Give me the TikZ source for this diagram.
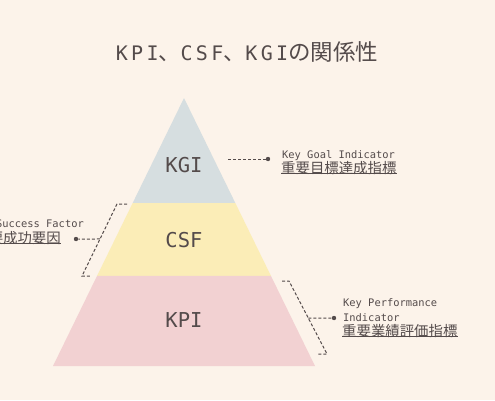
\documentclass[tikz,border=0pt]{standalone}
\usepackage{fontspec}
\usetikzlibrary{calc}
\newfontfamily\monofnt{DejaVu Sans Mono}
\newfontfamily\cjkfnt{Noto Sans CJK JP}
\definecolor{bgc}{HTML}{FCF3EA}
\definecolor{kgic}{HTML}{D6DEE0}
\definecolor{csfc}{HTML}{FBEDB7}
\definecolor{kpic}{HTML}{F2D1D2}
\definecolor{inkc}{HTML}{544B4B}
\begin{document}
\begin{tikzpicture}[x=1pt,y=-1pt,
  txt/.style={inner sep=0pt,text=inkc},
  lvl/.style={txt,font=\monofnt\fontsize{20.5}{20.5}\selectfont},
  en/.style={txt,anchor=west,font=\monofnt\fontsize{10.4}{10.4}\selectfont},
  ja/.style={txt,anchor=west,font=\cjkfnt\fontsize{14.4}{14.4}\selectfont},
  dashline/.style={draw=inkc,line width=1pt,dash pattern=on 3pt off 2pt},
  dotnode/.style={circle,fill=inkc,inner sep=0pt,minimum size=4.4pt},
  uline/.style={draw=inkc,line width=0.8pt}]
\useasboundingbox[fill=bgc] (0,0) rectangle (495,400);

% title
\node[txt] (title) at (247,52) {\monofnt\fontsize{20}{20}\selectfont K\,P\,I\cjkfnt\fontsize{22}{22}\selectfont 、\monofnt\fontsize{20}{20}\selectfont C\,S\,F\cjkfnt\fontsize{22}{22}\selectfont 、\monofnt\fontsize{20}{20}\selectfont K\,G\,I\cjkfnt\fontsize{22.5}{22.5}\selectfont の関係性};

% pyramid
\coordinate (apex) at (184,98);
\coordinate (bl) at (53,366);
\coordinate (br) at (315,366);
\coordinate (l1) at ($(apex)!0.392!(bl)$);
\coordinate (r1) at ($(apex)!0.392!(br)$);
\coordinate (l2) at ($(apex)!0.664!(bl)$);
\coordinate (r2) at ($(apex)!0.664!(br)$);
\fill[kgic] (apex) -- (r1) -- (l1) -- cycle;
\fill[csfc] (l1) -- (r1) -- (r2) -- (l2) -- cycle;
\fill[kpic] (l2) -- (r2) -- (br) -- (bl) -- cycle;
\node[lvl] (kgi) at (184,165) {KGI};
\node[lvl] (csf) at (184,240) {CSF};
\node[lvl] (kpi) at (184,320) {KPI};

% KGI annotation
\coordinate (kgis) at (228,159);
\node[dotnode] (kgidot) at (268,159) {};
\draw[dashline] (kgis) -- (kgidot);
\node[en] (kgien) at (282,156) {Key Goal Indicator};
\node[ja] (kgija) at (281,168.5) {重要目標達成指標};
\draw[uline] ([yshift=1.5pt]kgija.south west) -- ([yshift=1.5pt]kgija.south east);

% CSF annotation
\coordinate (csfa) at (127,204);
\coordinate (csfb) at (117,204);
\coordinate (csfc) at (82,276);
\coordinate (csfd) at (90,276);
\draw[dashline] (csfa) -- (csfb) -- (csfc) -- (csfd);
\coordinate (csfm) at ($(csfb)!0.486!(csfc)$);
\node[dotnode] (csfdot) at (76,239) {};
\draw[dashline] (csfm) -- (csfdot);
\node[en,anchor=east] (csfen) at (84,224) {Critical Success Factor};
\node[ja,anchor=east] (csfja) at (61,238.5) {重要成功要因};
\draw[uline] ([yshift=1.5pt]csfja.south west) -- ([yshift=1.5pt]csfja.south east);

% KPI annotation
\coordinate (kpia) at (282,281);
\coordinate (kpib) at (289,281);
\coordinate (kpic) at (327,354);
\coordinate (kpid) at (318,354);
\draw[dashline] (kpia) -- (kpib) -- (kpic) -- (kpid);
\coordinate (kpim) at ($(kpib)!0.507!(kpic)$);
\node[dotnode] (kpidot) at (334,318) {};
\draw[dashline] (kpim) -- (kpidot);
\node[en] (kpien1) at (343,304) {Key Performance};
\node[en] (kpien2) at (343,318) {Indicator};
\node[ja] (kpija) at (342,331.5) {重要業績評価指標};
\draw[uline] ([yshift=1.5pt]kpija.south west) -- ([yshift=1.5pt]kpija.south east);
\end{tikzpicture}
\end{document}
